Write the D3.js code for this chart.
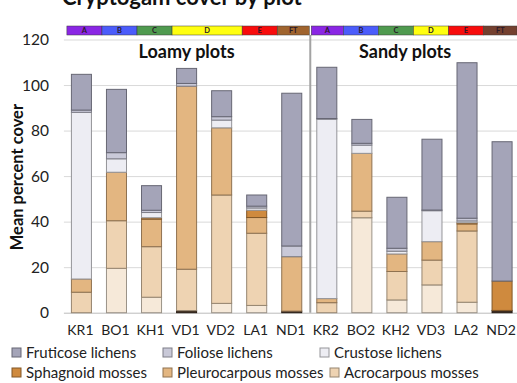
<!DOCTYPE html>
<html>
<head>
<meta charset="utf-8">
<script src="https://cdn.jsdelivr.net/npm/d3@7"></script>
<style>
  body { margin: 0; background: #fff; }
  svg { display: block; }
  text { font-family: Lato, "Open Sans", sans-serif; }
</style>
</head>
<body>
<svg id="chart" width="517" height="383"></svg>
<script>
// Plots, in display order
const plots = ["KR1", "BO1", "KH1", "VD1", "VD2", "LA1", "ND1", "KR2", "BO2", "KH2", "VD3", "LA2", "ND2"];
const soils = ["Loamy plots", "Sandy plots"];
const soilOfPlot = ["Loamy plots", "Loamy plots", "Loamy plots", "Loamy plots", "Loamy plots", "Loamy plots", "Loamy plots",
                    "Sandy plots", "Sandy plots", "Sandy plots", "Sandy plots", "Sandy plots", "Sandy plots"];

// Zone strip above the bars
const zoneLabels = ["A", "B", "C", "D", "D", "E", "FT", "A", "B", "C", "D", "E", "FT"];

// Mean percent cover per plot, one array per cryptogam group (stacked bottom to top)
const otherCover        = [0,    0,    0,    0.9,  0,    0,    0.7,  0,    0,    0,    0,    0,    1.0];
const liverwortCover    = [0,    19.5, 6.8,  0,    4.1,  3.2,  0,    0,    41.7, 5.6,  12.2, 4.6,  0];
const acrocarpousCover  = [9.0,  20.9, 22.2, 18.2, 47.6, 31.7, 0,    4.4,  2.9,  12.5, 10.9, 31.3, 0];
const pleurocarpousCover= [5.8,  21.3, 12.1, 80.4, 29.5, 6.9,  23.9, 1.8,  25.4, 7.7,  8.1,  3.1,  0];
const sphagnoidCover    = [0,    0,    0.6,  0,    0,    3.2,  0,    0,    0,    0,    0,    0.5,  12.9];
const crustoseCover     = [73.2, 5.9,  2.3,  0,    3.4,  1.0,  0,    78.8, 3.6,  1.2,  13.6, 0.8,  0];
const folioseCover      = [1.0,  2.7,  1.0,  1.2,  1.5,  0.8,  4.7,  0.3,  0.8,  1.3,  0.3,  1.2,  0];
const fruticoseCover    = [15.7, 27.8, 10.8, 6.6,  11.4, 4.9,  67.1, 22.5, 10.5, 22.4, 31.1, 68.3, 61.2];

const groupNames = ["Other", "Liverworts", "Acrocarpous mosses", "Pleurocarpous mosses", "Sphagnoid mosses",
                    "Crustose lichens", "Foliose lichens", "Fruticose lichens"];
const groupValues = [otherCover, liverwortCover, acrocarpousCover, pleurocarpousCover, sphagnoidCover,
                     crustoseCover, folioseCover, fruticoseCover];

// Legend entries (reading order)
const legendNames = ["Fruticose lichens", "Foliose lichens", "Crustose lichens",
                     "Sphagnoid mosses", "Pleurocarpous mosses", "Acrocarpous mosses"];
const yTicks = [0, 20, 40, 60, 80, 100, 120];

(function draw() {
  const groupColor = d3.scaleOrdinal()
    .domain(groupNames)
    .range(["#3d2b1f", "#f6e9d9", "#eed3b2", "#e3b681", "#cf8a3e", "#ededf3", "#c9c9d8", "#a4a4b8"]);
  const zoneColor = {
    "Loamy plots": {A: "#8a26e4", B: "#4b5cfb", C: "#4f9a4f", D: "#ffff10", E: "#f80c0c", FT: "#a0642e"},
    "Sandy plots": {A: "#8a26e4", B: "#4b5cfb", C: "#4f9a4f", D: "#ffff10", E: "#f80c0c", FT: "#74402f"}
  };

  const svg = d3.select("#chart");
  const plotLeft = 63.9, plotRight = 519.6, plotTop = 39.5, plotBottom = 312.7;

  const x = d3.scaleBand().domain(plots).range([plotLeft, plotRight]).paddingInner(0.4).paddingOuter(0.2);
  const y = d3.scaleLinear().domain([0, 120]).range([plotBottom, plotTop]);
  const gap = x.step() - x.bandwidth();

  // Heading, mostly above the frame
  svg.append("text")
    .attr("x", 62).attr("y", 5)
    .attr("font-size", 22).attr("font-weight", 700).attr("fill", "#111")
    .text("Cryptogam cover by plot");

  // Gridlines
  svg.append("g").selectAll("line")
    .data(yTicks)
    .join("line")
    .attr("x1", plotLeft).attr("x2", 517)
    .attr("y1", d => y(d) + 0.5).attr("y2", d => y(d) + 0.5)
    .attr("stroke", d => d === 0 ? "#bcbcbc" : "#d9d9d9")
    .attr("stroke-width", 1);

  // Y tick labels
  const yAxis = d3.axisLeft(y).tickValues(yTicks).tickSize(0).tickPadding(0);
  const yg = svg.append("g").attr("transform", "translate(49,0)").call(yAxis);
  yg.select(".domain").remove();
  yg.selectAll("text").attr("font-size", 15.5).attr("fill", "#222")
    .attr("font-family", "Lato, 'Open Sans', sans-serif");

  // Y axis title
  svg.append("text")
    .attr("transform", `translate(23,${(plotTop + plotBottom) / 2 + 1}) rotate(-90)`)
    .attr("text-anchor", "middle")
    .attr("font-size", 16.5).attr("font-weight", 700).attr("fill", "#111")
    .text("Mean percent cover");

  // Stacked bars
  const rows = plots.map((p, i) => {
    const r = {plot: p};
    groupNames.forEach((g, k) => { r[g] = groupValues[k][i]; });
    return r;
  });
  const stacked = d3.stack().keys(groupNames)(rows);

  svg.append("g").selectAll("g")
    .data(stacked)
    .join("g")
    .attr("fill", d => groupColor(d.key))
    .attr("stroke", d => d3.color(groupColor(d.key)).darker(1.3))
    .selectAll("rect")
    .data(d => d.filter(s => s[1] - s[0] > 0))
    .join("rect")
    .attr("x", d => x(d.data.plot) + 0.5)
    .attr("width", x.bandwidth() - 1)
    .attr("y", d => y(d[1]))
    .attr("height", d => Math.max(0.6, y(d[0]) - y(d[1])))
    .attr("stroke-width", 1);

  // Divider between soil types
  const divX = x("KR2") - gap / 2 + 1;
  svg.append("line")
    .attr("x1", divX).attr("x2", divX)
    .attr("y1", 35).attr("y2", plotBottom)
    .attr("stroke", "#a3a3a3").attr("stroke-width", 2);

  // Soil type headings
  soils.forEach((s, k) => {
    const members = plots.filter((p, i) => soilOfPlot[i] === s);
    const x0 = x(members[0]) - gap / 2;
    const x1 = Math.min(517, x(members[members.length - 1]) + x.bandwidth() + gap / 2);
    svg.append("text")
      .attr("x", (x0 + x1) / 2 - (k ? 8 : 0)).attr("y", 58)
      .attr("text-anchor", "middle")
      .attr("font-size", 18).attr("font-weight", 700).attr("fill", "#111")
      .text(s);
  });

  // Zone strip
  const zones = [];
  plots.forEach((p, i) => {
    const last = zones[zones.length - 1];
    if (last && last.label === zoneLabels[i] && last.soil === soilOfPlot[i]) last.plots.push(p);
    else zones.push({label: zoneLabels[i], soil: soilOfPlot[i], plots: [p]});
  });
  const strip = svg.append("g");
  zones.forEach(z => {
    const shift = z.soil === "Loamy plots" ? 3 : -1;
    let x0 = x(z.plots[0]) - gap / 2 + shift;
    let x1 = x(z.plots[z.plots.length - 1]) + x.bandwidth() + gap / 2 + shift;
    if (z.soil === "Loamy plots") x1 = Math.min(x1, divX - 1);
    else x0 = Math.max(x0, divX + 1);
    x1 = Math.min(x1, 517);
    strip.append("rect")
      .attr("x", x0).attr("y", 26).attr("width", x1 - x0).attr("height", 9)
      .attr("fill", zoneColor[z.soil][z.label])
      .attr("stroke", "#3a3a3a").attr("stroke-width", 0.5);
    strip.append("text")
      .attr("x", (x0 + x1) / 2).attr("y", 33.3)
      .attr("text-anchor", "middle")
      .attr("font-size", 7.5).attr("font-weight", 700).attr("fill", "#2a1a2a")
      .text(z.label);
  });

  // X labels
  const xAxis = d3.axisBottom(x).tickSize(0).tickPadding(0);
  const xg = svg.append("g").attr("transform", `translate(-1,${plotBottom + 12})`).call(xAxis);
  xg.select(".domain").remove();
  xg.selectAll("text").attr("font-size", 14).attr("fill", "#222")
    .attr("font-family", "Lato, 'Open Sans', sans-serif").attr("dy", "0.71em");

  // Legend
  const legendPos = [[12, 353], [163, 353], [320, 353], [12, 373], [163, 373], [330, 373]];
  const lg = svg.append("g");
  legendNames.forEach((name, i) => {
    const [lx, ly] = legendPos[i];
    lg.append("rect")
      .attr("x", lx).attr("y", ly - 5).attr("width", 9).attr("height", 9)
      .attr("fill", groupColor(name))
      .attr("stroke", d3.color(groupColor(name)).darker(1.3)).attr("stroke-width", 1);
    lg.append("text")
      .attr("x", lx + 14).attr("y", ly + 5)
      .attr("font-size", 15).attr("fill", "#222")
      .text(name);
  });
})();
</script>
</body>
</html>
